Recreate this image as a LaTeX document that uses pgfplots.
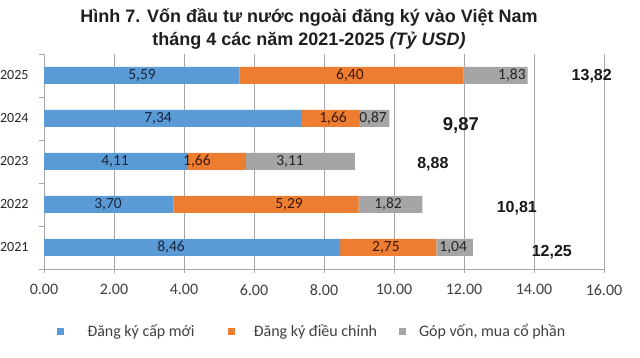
\documentclass[border=0pt]{standalone}
\usepackage{pgfplots}
\pgfplotsset{compat=1.18}
\usepackage{fontspec}
\setmainfont{Carlito}
\newfontfamily\arialf{Liberation Sans}
\definecolor{cblue}{HTML}{5B9BD5}
\definecolor{corange}{HTML}{ED7D31}
\definecolor{cgray}{HTML}{A5A5A5}
\definecolor{gridc}{HTML}{A6A6A6}
\definecolor{tickc}{HTML}{404040}
\definecolor{labblue}{HTML}{16263E}
\definecolor{laborange}{HTML}{3E1806}
\definecolor{labgray}{HTML}{262626}
\begin{document}
\begin{tikzpicture}[x=1pt,y=1pt]
\useasboundingbox (0,0) rectangle (640,358);
\node[anchor=base, font=\arialf\bfseries\fontsize{18}{22}\selectfont, text=black!88] at (309,335) {Hình 7. Vốn đầu tư nước ngoài đăng ký vào Việt Nam};
\node[anchor=base, font=\arialf\bfseries\fontsize{18}{22}\selectfont, text=black!88] at (309,312) {tháng 4 các năm 2021-2025 \textit{(Tỷ USD)}};
\begin{axis}[
  at={(44pt,89pt)}, anchor=south west,
  scale only axis, width=560pt, height=215pt,
  xbar stacked, bar width=17pt,
  xmin=0, xmax=16, ymin=-0.5, ymax=4.5,
  axis lines=left, axis line style={-, draw=gridc, line width=0.8pt},
  xtick={0,2,...,16},
  xmajorgrids, grid style={draw=gridc, line width=0.8pt},
  tick align=outside, major tick length=4pt, minor tick length=5pt,
  x tick style={draw=gridc, line width=0.8pt},
  xticklabel style={font=\fontsize{16}{18}\selectfont, text=tickc, yshift=-8pt},
  /pgf/number format/.cd, fixed, fixed zerofill, precision=2, assume math mode=true,
  /pgfplots/.cd,
  ytick={0,1,2,3,4},
  yticklabels={2021,2022,2023,2024,2025},
  major y tick style={draw=none},
  minor ytick={-0.5,0.5,1.5,2.5,3.5,4.5},
  minor y tick style={draw=gridc, line width=0.8pt},
  yticklabel style={font=\fontsize{14}{16}\selectfont, text=black!85, xshift=-8pt},
  legend columns=3,
  legend style={draw=none, fill=none, at={(axis description cs:0.479,-0.29)}, anchor=center,
    font=\fontsize{16}{18}\selectfont, text=tickc,
    /tikz/column 1/.style={column sep=21pt},
    /tikz/column 2/.style={column sep=31pt},
    /tikz/column 3/.style={column sep=17pt},
    /tikz/column 4/.style={column sep=20pt},
    /tikz/column 5/.style={column sep=11pt}},
  legend image code/.code={\path[#1, draw=none] (0pt,-3.5pt) rectangle (7pt,3.5pt);},
]
\addplot+[fill=cblue, draw=none] coordinates {(8.46,0) (3.70,1) (4.11,2) (7.34,3) (5.59,4)};
\addplot+[fill=corange, draw=none] coordinates {(2.75,0) (5.29,1) (1.66,2) (1.66,3) (6.40,4)};
\addplot+[fill=cgray, draw=none] coordinates {(1.04,0) (1.82,1) (3.11,2) (0.87,3) (1.83,4)};
\legend{Đăng ký cấp mới, Đăng ký điều chỉnh, {Góp vốn, mua cổ phần}}
\end{axis}
\begin{axis}[
  at={(44pt,89pt)}, anchor=south west,
  scale only axis, width=560pt, height=215pt,
  xmin=0, xmax=16, ymin=-0.5, ymax=4.5, hide axis,
  nodes near coords, point meta=explicit symbolic,
]
\addplot[draw=none, mark=none, nodes near coords style={anchor=center, font=\fontsize{15.5}{17}\selectfont, text=labblue}]
  table[meta=lab] {
x y lab
3.63 0 8,46
1.83 1 3,70
2.03 2 4,11
3.26 3 7,34
2.80 4 5,59
};
\addplot[draw=none, mark=none, nodes near coords style={anchor=center, font=\fontsize{15.5}{17}\selectfont, text=laborange}]
  table[meta=lab] {
x y lab
9.77 0 2,75
7.00 1 5,29
4.37 2 1,66
8.26 3 1,66
8.74 4 6,40
};
\addplot[draw=none, mark=none, nodes near coords style={anchor=center, font=\fontsize{15.5}{17}\selectfont, text=labgray}]
  table[meta=lab] {
x y lab
11.69 0 1,04
9.83 1 1,82
7.03 2 3,11
9.40 3 0,87
13.37 4 1,83
};
\addplot[draw=none, mark=none, nodes near coords style={anchor=center, font=\arialf\bfseries\fontsize{16}{18}\selectfont, text=black!90}]
  table[meta=lab] {
x y lab
14.51 -0.10 12,25
13.51 0.92 10,81
11.11 1.94 8,88
15.65 3.99 13,82
};
\addplot[draw=none, mark=none, nodes near coords style={anchor=center, font=\arialf\bfseries\fontsize{18.5}{20}\selectfont, text=black!90}]
  table[meta=lab] {
x y lab
11.91 2.83 9,87
};
\end{axis}
\end{tikzpicture}
\end{document}
